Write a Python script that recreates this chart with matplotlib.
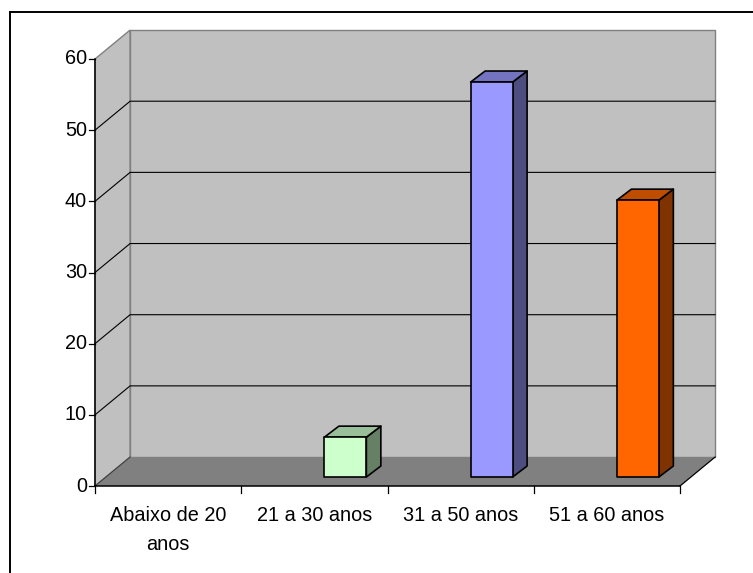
import matplotlib
matplotlib.use("Agg")
import matplotlib.pyplot as plt
from matplotlib.patches import Polygon
from matplotlib.lines import Line2D

plt.rcParams['font.family'] = ['Liberation Sans', 'DejaVu Sans']

categories = ['Abaixo de 20\nanos', '21 a 30 anos', '31 a 50 anos', '51 a 60 anos']
values = [0, 5.6, 55.5, 38.9]
front_colors = ['#CCFFCC', '#CCFFCC', '#9999FF', '#FF6600']
yticks = [0, 10, 20, 30, 40, 50, 60]


def shade(c, f):
    r, g, b = matplotlib.colors.to_rgb(c)
    return (r * f, g * f, b * f)


W, H = 753, 573
fig = plt.figure(figsize=(W / 100, H / 100), dpi=100)
fig.patch.set_facecolor('white')

# plot area of the front plane (pixels)
left, right, bottom, top = 95, 680, 486, 59
ax = fig.add_axes([left / W, (H - bottom) / H, (right - left) / W, (bottom - top) / H])
ax.set_xlim(0, 4)
ax.set_ylim(0, 60)
ax.axis('off')

# depth of the walls, in data units
wdx, wdy = 0.24, 4.07
# bar placement inside the depth
ox, oy = 0.212, 1.26
bw = 0.287
bdx, bdy = 0.099, 1.55

ymax = yticks[-1]
wall = '#C0C0C0'
edge = '#808080'

# side wall
ax.add_patch(Polygon([(0, 0), (wdx, wdy), (wdx, ymax + wdy), (0, ymax)],
                     closed=True, fc=wall, ec=edge, lw=1, clip_on=False, zorder=1))
# back wall
ax.add_patch(Polygon([(wdx, wdy), (4 + wdx, wdy), (4 + wdx, ymax + wdy), (wdx, ymax + wdy)],
                     closed=True, fc=wall, ec=edge, lw=1, clip_on=False, zorder=1))

# gridlines
for v in yticks[1:-1]:
    ax.plot([0, wdx, 4 + wdx], [v, v + wdy, v + wdy], color='black', lw=0.8,
            clip_on=False, zorder=2)

# floor
ax.add_patch(Polygon([(0, 0), (4, 0), (4 + wdx, wdy), (wdx, wdy)],
                     closed=True, fc='#808080', ec='none', clip_on=False, zorder=3))
ax.plot([0, wdx], [0, wdy], color='#404040', lw=0.8, clip_on=False, zorder=3)
ax.plot([4, 4 + wdx], [0, wdy], color='black', lw=0.9, clip_on=False, zorder=3)

# axes lines and ticks
ax.plot([0, 0], [0, ymax], color='black', lw=1.1, clip_on=False, zorder=4)
ax.plot([0, 4], [0, 0], color='black', lw=1.1, clip_on=False, zorder=4)
for v in yticks:
    ax.plot([-0.042, 0], [v, v], color='black', lw=0.9, clip_on=False, zorder=4)
    ax.text(-0.055, v, str(v), ha='right', va='center', fontsize=14.3, zorder=4)
for i in range(5):
    ax.plot([i, i], [0, -0.95], color='black', lw=0.9, clip_on=False, zorder=4)
for i, lab in enumerate(categories):
    ax.text(i + 0.5, -2.75, lab, ha='center', va='top', fontsize=14.3,
            linespacing=1.7, zorder=4)

# bars
for i, (v, c) in enumerate(zip(values, front_colors)):
    if v <= 0:
        continue
    x0 = i + 0.5 + ox - bw / 2
    x1 = x0 + bw
    y0 = oy
    y1 = oy + v
    kw = dict(closed=True, ec='black', lw=1.2, joinstyle='round', clip_on=False, zorder=5)
    ax.add_patch(Polygon([(x1, y0), (x1 + bdx, y0 + bdy), (x1 + bdx, y1 + bdy), (x1, y1)],
                         fc=shade(c, 0.5), **kw))
    ax.add_patch(Polygon([(x0, y1), (x1, y1), (x1 + bdx, y1 + bdy), (x0 + bdx, y1 + bdy)],
                         fc=shade(c, 0.75), **kw))
    ax.add_patch(Polygon([(x0, y0), (x1, y0), (x1, y1), (x0, y1)], fc=c, **kw))

# chart frame (only left and top edges inside the picture)
fx, fy = 9.5 / W, 1 - 11.5 / H
fig.add_artist(Line2D([fx, fx], [0, fy], color='black', lw=1.4))
fig.add_artist(Line2D([fx, 1.0], [fy, fy], color='black', lw=1.4))

fig.savefig('out.png', dpi=100)
